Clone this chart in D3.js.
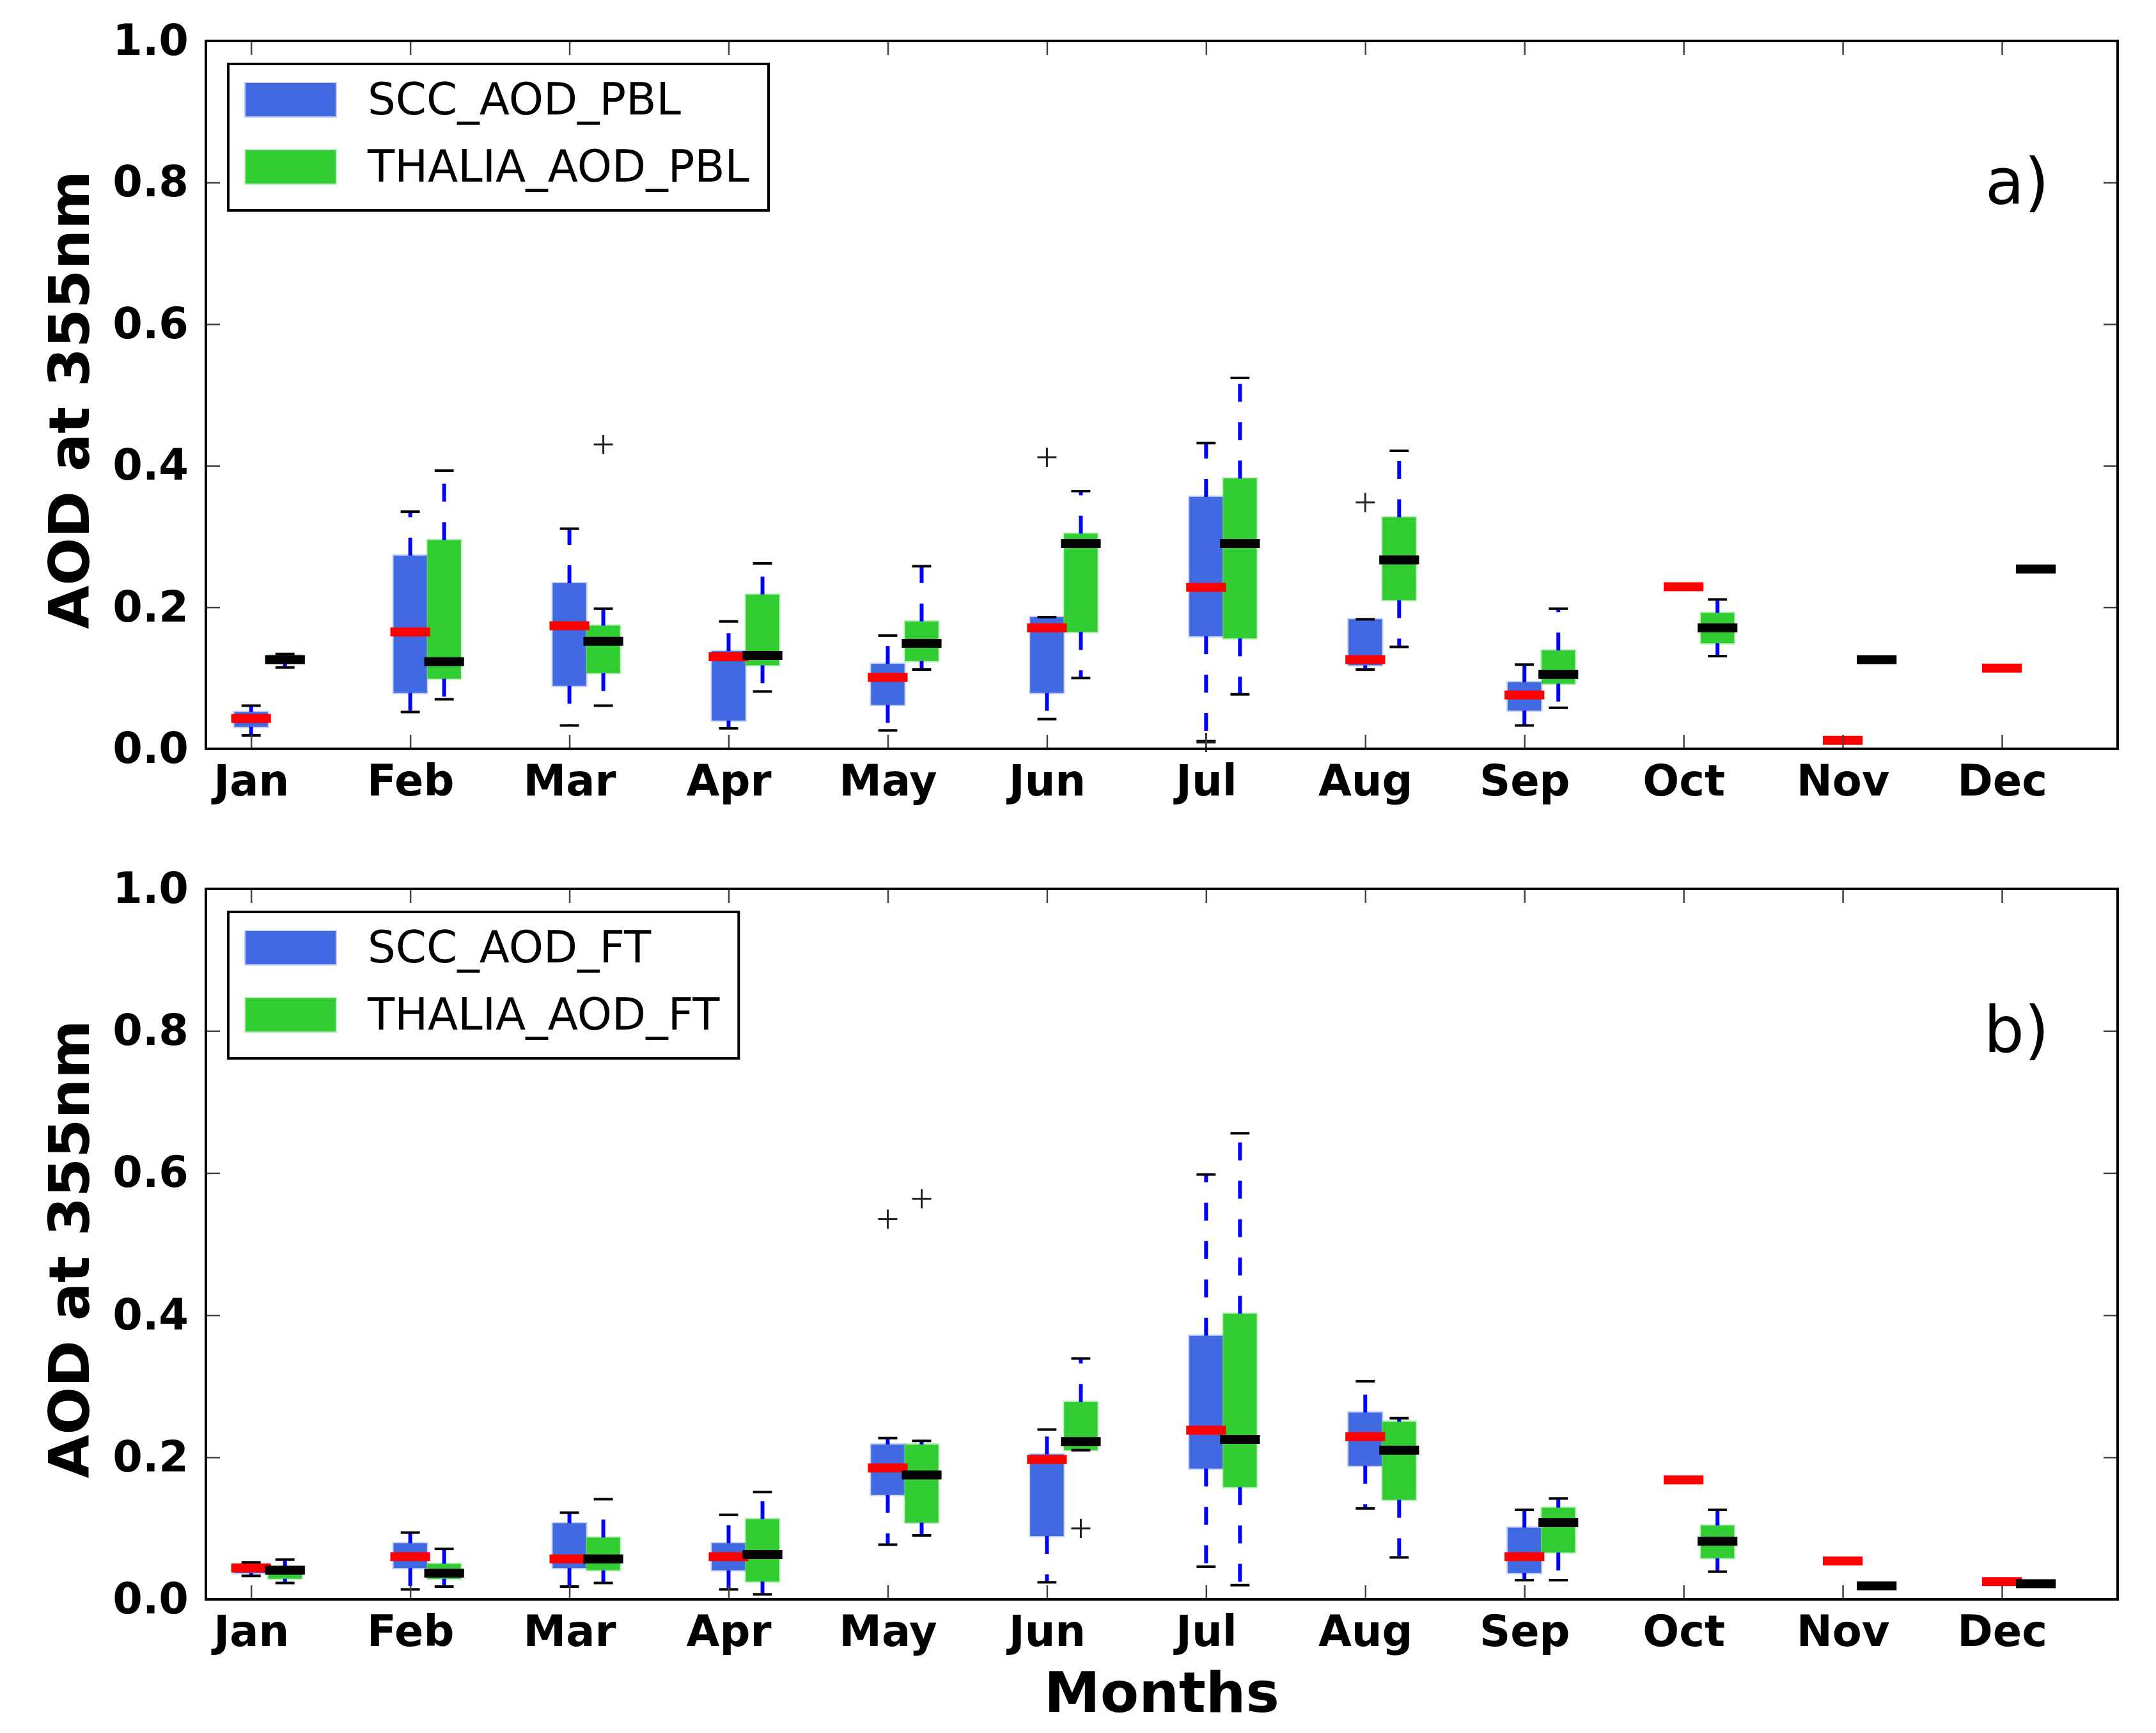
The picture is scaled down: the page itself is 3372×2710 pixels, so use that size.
<!DOCTYPE html>
<html lang="en">
<head>
<meta charset="UTF-8" />
<title>AOD at 355nm</title>
<script src="https://d3js.org/d3.v7.min.js"></script>
<style>
  body { margin: 0; background: #fff; }
  svg text { font-family: "DejaVu Sans", sans-serif; fill: #000; }
  .tick text { font-size: 67px; font-weight: bold; }
  .tick line { stroke: #444; stroke-width: 2.5; }
</style>
</head>
<body>
<svg id="chart" width="3372" height="2710"></svg>
<script>
const months = ["Jan", "Feb", "Mar", "Apr", "May", "Jun", "Jul", "Aug", "Sep", "Oct", "Nov", "Dec"];
const yTicks = [0, 0.2, 0.4, 0.6, 0.8, 1.0];

// one row per month: [whisker low, q1, median, q3, whisker high]
// months with a single value only carry a median
const sccPbl = [
    [0.019, 0.031, 0.043, 0.052, 0.061],
    [0.052, 0.079, 0.165, 0.273, 0.335],
    [0.033, 0.089, 0.174, 0.234, 0.311],
    [0.029, 0.040, 0.130, 0.138, 0.180],
    [0.026, 0.062, 0.101, 0.120, 0.160],
    [0.042, 0.079, 0.171, 0.186, 0.186],
    [0.011, 0.159, 0.228, 0.356, 0.432],
    [0.112, 0.118, 0.126, 0.183, 0.183],
    [0.033, 0.054, 0.076, 0.094, 0.119],
    [null, null, 0.229, null, null],
    [null, null, 0.012, null, null],
    [null, null, 0.114, null, null],
];
const thaliaPbl = [
    [0.115, 0.122, 0.126, 0.132, 0.134],
    [0.070, 0.099, 0.123, 0.295, 0.393],
    [0.061, 0.107, 0.152, 0.174, 0.198],
    [0.081, 0.118, 0.132, 0.218, 0.262],
    [0.112, 0.124, 0.149, 0.180, 0.258],
    [0.100, 0.165, 0.290, 0.304, 0.364],
    [0.077, 0.156, 0.290, 0.382, 0.524],
    [0.144, 0.210, 0.267, 0.327, 0.421],
    [0.058, 0.092, 0.105, 0.139, 0.198],
    [0.131, 0.149, 0.171, 0.192, 0.211],
    [null, null, 0.126, null, null],
    [null, null, 0.254, null, null],
];
const sccFt = [
    [0.033, 0.037, 0.044, 0.050, 0.052],
    [0.014, 0.044, 0.060, 0.079, 0.094],
    [0.018, 0.044, 0.057, 0.107, 0.122],
    [0.014, 0.041, 0.060, 0.079, 0.119],
    [0.077, 0.147, 0.185, 0.218, 0.227],
    [0.024, 0.089, 0.197, 0.204, 0.239],
    [0.046, 0.184, 0.238, 0.371, 0.598],
    [0.128, 0.188, 0.229, 0.263, 0.307],
    [0.027, 0.037, 0.060, 0.101, 0.126],
    [null, null, 0.168, null, null],
    [null, null, 0.054, null, null],
    [null, null, 0.025, null, null],
];
const thaliaFt = [
    [0.023, 0.029, 0.041, 0.046, 0.056],
    [0.018, 0.029, 0.037, 0.050, 0.071],
    [0.023, 0.041, 0.057, 0.087, 0.141],
    [0.007, 0.025, 0.063, 0.113, 0.151],
    [0.090, 0.108, 0.175, 0.218, 0.223],
    [0.210, 0.210, 0.222, 0.278, 0.339],
    [0.020, 0.158, 0.225, 0.402, 0.656],
    [0.059, 0.140, 0.210, 0.250, 0.255],
    [0.027, 0.066, 0.108, 0.129, 0.142],
    [0.039, 0.058, 0.082, 0.104, 0.126],
    [null, null, 0.019, null, null],
    [null, null, 0.022, null, null],
];

// outliers: [month number, value]
const sccPblOut = [[6, 0.412], [7, 0.009], [8, 0.348]];
const thaliaPblOut = [[3, 0.430]];
const sccFtOut = [[5, 0.535]];
const thaliaFtOut = [[5, 0.564], [6, 0.100]];

const legendPbl = ["SCC_AOD_PBL", "THALIA_AOD_PBL"];
const legendFt = ["SCC_AOD_FT", "THALIA_AOD_FT"];

const svg = d3.select("#chart");
const left = 322, right = 3312;
const blue = "#4169e1", green = "#32cd32";
const boxW = 0.21, shift = 0.213, capW = 0.12, medW = boxW + 0.04;
const monthPos = months.map((m, i) => i + 1);

const x = d3.scaleLinear().domain([0.716, 12.727]).range([left, right]);

const panels = [
    { top: 64, bottom: 1171, tag: "a)", scc: sccPbl, thalia: thaliaPbl, sccOut: sccPblOut, thaliaOut: thaliaPblOut, names: legendPbl },
    { top: 1390, bottom: 2501, tag: "b)", scc: sccFt, thalia: thaliaFt, sccOut: sccFtOut, thaliaOut: thaliaFtOut, names: legendFt },
];

function drawPanel(p) {
    const y = d3.scaleLinear().domain([0, 1]).range([p.bottom, p.top]);
    const g = svg.append("g");

    const series = [
        { rows: p.scc, out: p.sccOut, dx: 0, fill: blue, med: "#ff0000" },
        { rows: p.thalia, out: p.thaliaOut, dx: shift, fill: green, med: "#000000" },
    ];
    series.forEach((s) => {
        s.items = s.rows.map((r, i) => ({ r, c: i + 1 + s.dx }));
        s.boxed = s.items.filter((d) => d.r[1] != null);
    });

    // boxes first (patches sit under the lines)
    series.forEach((s) => {
        g.append("g")
            .selectAll("rect")
            .data(s.boxed)
            .join("rect")
            .attr("x", (d) => x(d.c - boxW / 2))
            .attr("width", x(boxW) - x(0))
            .attr("y", (d) => y(d.r[3]))
            .attr("height", (d) => y(d.r[1]) - y(d.r[3]))
            .attr("fill", s.fill)
            .attr("stroke", s.fill)
            .attr("stroke-opacity", 0.3)
            .attr("stroke-width", 4);
    });

    series.forEach((s) => {
        const whiskers = [];
        s.boxed.forEach((d) => {
            whiskers.push({ c: d.c, from: d.r[3], to: d.r[4] });
            whiskers.push({ c: d.c, from: d.r[1], to: d.r[0] });
        });
        g.append("g")
            .selectAll("line")
            .data(whiskers.filter((w) => Math.abs(y(w.from) - y(w.to)) > 1))
            .join("line")
            .attr("x1", (w) => x(w.c))
            .attr("x2", (w) => x(w.c))
            .attr("y1", (w) => y(w.from))
            .attr("y2", (w) => y(w.to))
            .attr("stroke", "#0000ff")
            .attr("stroke-width", 6)
            .attr("stroke-dasharray", "28,32");

        const caps = [];
        s.boxed.forEach((d) => {
            caps.push({ c: d.c, v: d.r[0] });
            caps.push({ c: d.c, v: d.r[4] });
        });
        g.append("g")
            .selectAll("line")
            .data(caps)
            .join("line")
            .attr("x1", (d) => x(d.c - capW / 2))
            .attr("x2", (d) => x(d.c + capW / 2))
            .attr("y1", (d) => y(d.v))
            .attr("y2", (d) => y(d.v))
            .attr("stroke", "#000")
            .attr("stroke-width", 4);

        g.append("g")
            .selectAll("line")
            .data(s.items)
            .join("line")
            .attr("x1", (d) => x(d.c - medW / 2))
            .attr("x2", (d) => x(d.c + medW / 2))
            .attr("y1", (d) => y(d.r[2]))
            .attr("y2", (d) => y(d.r[2]))
            .attr("stroke", s.med)
            .attr("stroke-width", 14);

        g.append("g")
            .selectAll("path")
            .data(s.out)
            .join("path")
            .attr("d", (o) => {
                const cx = x(o[0] + s.dx), cy = y(o[1]);
                const pth = d3.path();
                pth.moveTo(cx - 15, cy); pth.lineTo(cx + 15, cy);
                pth.moveTo(cx, cy - 15); pth.lineTo(cx, cy + 15);
                return pth.toString();
            })
            .attr("stroke", "#222")
            .attr("stroke-width", 3)
            .attr("fill", "none");
    });

    // axes, ticks pointing inwards on every side
    const ax = svg.append("g");
    ax.append("g")
        .attr("transform", `translate(${left},0)`)
        .call(d3.axisLeft(y).tickValues(yTicks).tickFormat(d3.format(".1f")).tickSizeInner(-22).tickSizeOuter(0).tickPadding(27))
        .call((a) => a.select(".domain").remove());
    ax.append("g")
        .attr("transform", `translate(${right},0)`)
        .call(d3.axisRight(y).tickValues(yTicks).tickFormat("").tickSizeInner(-22).tickSizeOuter(0))
        .call((a) => a.select(".domain").remove());
    ax.append("g")
        .attr("transform", `translate(0,${p.bottom})`)
        .call(d3.axisBottom(x).tickValues(monthPos).tickFormat((d, i) => months[i]).tickSizeInner(-22).tickSizeOuter(0).tickPadding(25))
        .call((a) => a.select(".domain").remove());
    ax.append("g")
        .attr("transform", `translate(0,${p.top})`)
        .call(d3.axisTop(x).tickValues(monthPos).tickFormat("").tickSizeInner(-22).tickSizeOuter(0))
        .call((a) => a.select(".domain").remove());

    ax.append("rect")
        .attr("x", left)
        .attr("y", p.top)
        .attr("width", right - left)
        .attr("height", p.bottom - p.top)
        .attr("fill", "none")
        .attr("stroke", "#000")
        .attr("stroke-width", 4);

    ax.append("text")
        .attr("transform", `translate(139,${(p.top + p.bottom) / 2 + 8}) rotate(-90)`)
        .attr("text-anchor", "middle")
        .style("font-size", "88px")
        .style("font-weight", "bold")
        .text("AOD at 355nm");

    ax.append("text")
        .attr("x", 3205)
        .attr("y", p.top + 255)
        .attr("text-anchor", "end")
        .style("font-size", "100px")
        .text(p.tag);

    // legend
    const lg = svg.append("g");
    const frame = lg.append("rect");
    const labels = [];
    [blue, green].forEach((col, i) => {
        lg.append("rect")
            .attr("x", 384)
            .attr("y", p.top + 66 + i * 105)
            .attr("width", 141)
            .attr("height", 52)
            .attr("fill", col)
            .attr("stroke", col)
            .attr("stroke-opacity", 0.3)
            .attr("stroke-width", 4);
        labels.push(
            lg.append("text")
                .attr("x", 575)
                .attr("y", p.top + 115 + i * 105)
                .style("font-size", "69px")
                .text(p.names[i])
        );
    });
    const textW = d3.max(labels, (t) => t.node().getComputedTextLength());
    frame.attr("x", 357)
        .attr("y", p.top + 36)
        .attr("width", 575 + textW + 30 - 357)
        .attr("height", 229)
        .attr("fill", "#fff")
        .attr("stroke", "#000")
        .attr("stroke-width", 4);
}

panels.forEach(drawPanel);

svg.append("text")
    .attr("x", (left + right) / 2)
    .attr("y", 2677)
    .attr("text-anchor", "middle")
    .style("font-size", "88px")
    .style("font-weight", "bold")
    .text("Months");
</script>
</body>
</html>
